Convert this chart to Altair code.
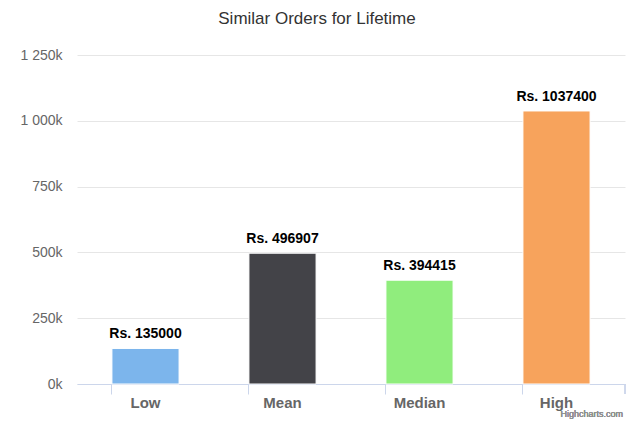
import altair as alt
import pandas as pd

categories = ["Low", "Mean", "Median", "High"]
values = [135000, 496907, 394415, 1037400]
colors = ["#7cb5ec", "#434348", "#90ed7d", "#f7a35c"]
y_ticks = [0, 250000, 500000, 750000, 1000000, 1250000]

df = pd.DataFrame({"category": categories, "value": values, "color": colors})
df["label"] = ["Rs. " + str(v) for v in values]

FONT = "Liberation Sans"

x = alt.X("category:N", sort=categories,
          scale=alt.Scale(paddingInner=0.51, paddingOuter=0.255),
          axis=alt.Axis(title=None, labelAngle=0, labelFontSize=15, labelFont=FONT,
                        labelFontWeight="bold", labelColor="#666666", labelPadding=1,
                        domainColor="#ccd6eb", tickColor="#ccd6eb", tickSize=10,
                        bandPosition=0, grid=False))
y = alt.Y("value:Q", scale=alt.Scale(domain=[0, 1250000], nice=False),
          axis=alt.Axis(title=None, values=y_ticks, labelFontSize=14, labelFont=FONT,
                        labelColor="#666666", labelPadding=15, ticks=False, domain=False,
                        gridColor="#e6e6e6",
                        labelExpr="replace(format(datum.value/1000, ','), ',', ' ') + 'k'"))

bars = alt.Chart(df).mark_bar(stroke="white", strokeWidth=1).encode(
    x=x, y=y, color=alt.Color("color:N", scale=None)
)

labels = alt.Chart(df).mark_text(baseline="bottom", dy=-7, fontSize=14, fontWeight="bold",
                                 font=FONT, color="#000000").encode(
    x=alt.X("category:N", sort=categories), y="value:Q", text="label:N"
)

end_tick = alt.Chart(df).mark_rule(color="#ccd6eb").encode(
    x=alt.value(548), y=alt.value(329), y2=alt.value(339)
)

credit = alt.Chart(df).mark_text(text="Highcharts.com", align="right", baseline="alphabetic",
                                 fontSize=9, font=FONT, color="#909090").encode(
    x=alt.value(546), y=alt.value(362)
)

chart = alt.layer(bars, labels, end_tick, credit).properties(
    width=548, height=329,
    title=alt.Title("Similar Orders for Lifetime", fontSize=17, font=FONT,
                    fontWeight="normal", color="#333333", anchor="middle", dx=-34, offset=20),
    autosize=alt.AutoSizeParams(type="none"),
    padding={"left": 69, "top": 47, "right": 1, "bottom": 36},
).configure_view(stroke=None)

chart.save("out.html", embed_options={"renderer": "svg", "actions": False})
